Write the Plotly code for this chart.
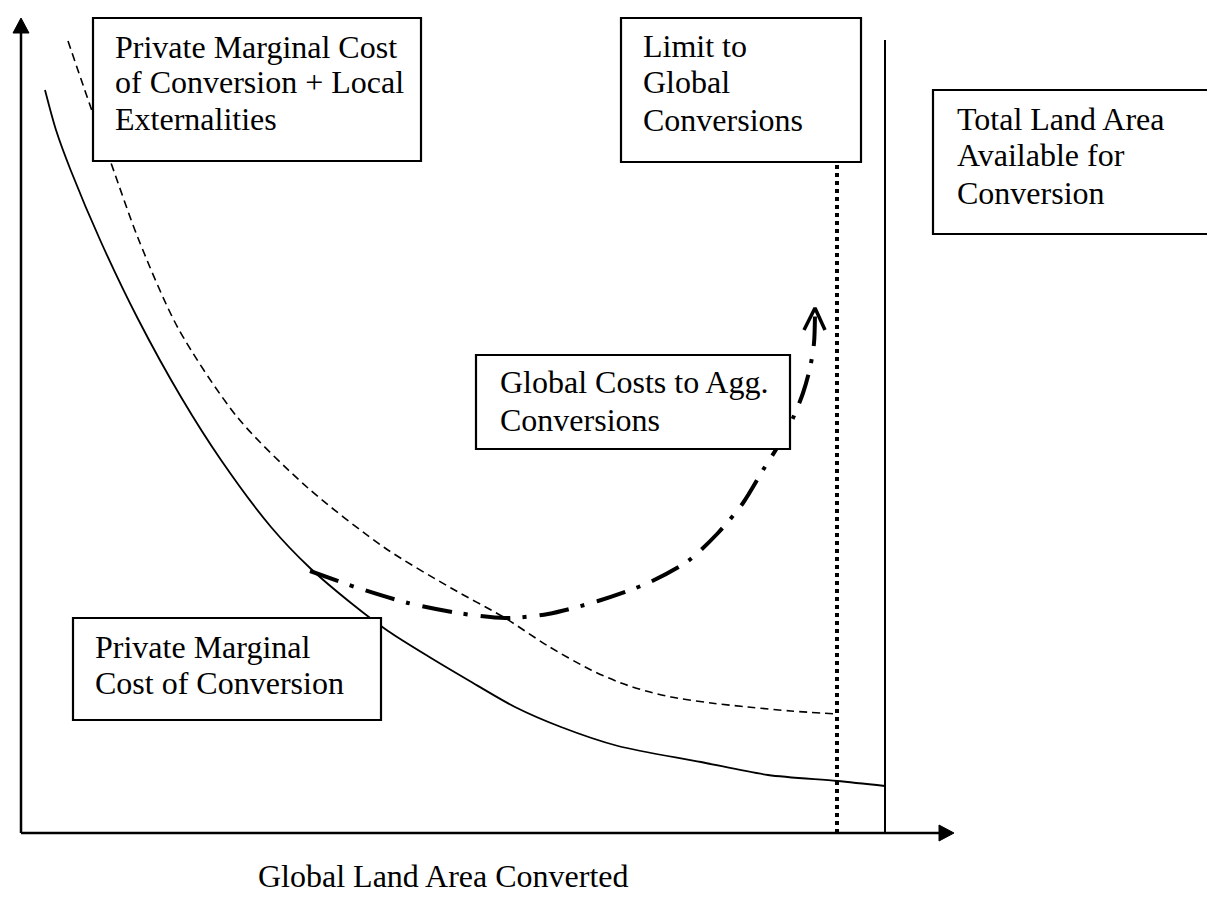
import plotly.graph_objects as go

# ---- data (arbitrary units: x = land area converted, y = cost) ----
pmc_x = [24, 35, 50, 80, 117, 160, 200, 250, 289, 330, 367, 410, 447, 494, 540, 597, 680, 747, 816, 864]
pmc_y = [743, 703, 662, 591, 514, 436, 373, 306, 265, 230, 202, 175, 153, 126, 106, 87, 71, 58, 52, 47]

pmc_local_x = [47, 70, 90, 117, 157, 217, 287, 364, 430, 484, 527, 570, 600, 625, 650, 690, 727, 770, 816]
pmc_local_y = [792, 725, 670, 595, 505, 415, 345, 285, 245, 215, 187, 163, 150, 142, 136, 130, 126, 122, 119]

global_x = [289, 337, 387, 437, 484, 527, 577, 627, 667, 697, 722, 742, 759, 772, 782, 789, 793, 794]
global_y = [262, 245, 230, 220, 215, 219, 232, 250, 272, 300, 330, 363, 390, 415, 440, 465, 490, 520]

limit_x = 816
limit_top = 668
total_x = 864
total_top = 793
x_axis_end = 933
y_axis_end = 815

labels = {
    "pmc_local": ["Private Marginal Cost", "of Conversion + Local", "Externalities"],
    "limit": ["Limit to", "Global", "Conversions"],
    "total": ["Total Land Area", "Available for", "Conversion"],
    "global": ["Global Costs to Agg.", "Conversions"],
    "pmc": ["Private Marginal", "Cost of Conversion"],
}
x_title = "Global Land Area Converted"

# ---- layout (positions in data units) ----
boxes = {
    "pmc_local": dict(x0=72, x1=400, y0=672, y1=815, tx=92, ty=[786, 751, 714]),
    "limit": dict(x0=600, x1=840, y0=671, y1=815, tx=620, ty=[787, 751, 713]),
    "total": dict(x0=912, x1=1192, y0=599, y1=743, tx=934, ty=[714, 678, 640]),
    "global": dict(x0=455, x1=769, y0=384, y1=478, tx=477, ty=[451, 413]),
    "pmc": dict(x0=52, x1=360, y0=113, y1=215, tx=72, ty=[186, 150]),
}

FONT = dict(family="Liberation Serif, Times New Roman, serif", size=32, color="black")
BLACK = "black"

fig = go.Figure()

# axes
fig.add_trace(go.Scatter(x=[0, 0], y=[0, y_axis_end - 12], mode="lines",
                         line=dict(color=BLACK, width=2.5), hoverinfo="skip"))
fig.add_trace(go.Scatter(x=[0, x_axis_end - 12], y=[0, 0], mode="lines",
                         line=dict(color=BLACK, width=2.5), hoverinfo="skip"))
# arrowheads (filled triangles)
fig.add_trace(go.Scatter(x=[-8, 0, 8, -8], y=[y_axis_end - 15, y_axis_end, y_axis_end - 15, y_axis_end - 15],
                         mode="lines", fill="toself", fillcolor=BLACK,
                         line=dict(color=BLACK, width=1), hoverinfo="skip"))
fig.add_trace(go.Scatter(x=[x_axis_end - 15, x_axis_end, x_axis_end - 15, x_axis_end - 15], y=[8, 0, -8, 8],
                         mode="lines", fill="toself", fillcolor=BLACK,
                         line=dict(color=BLACK, width=1), hoverinfo="skip"))

# total land line
fig.add_trace(go.Scatter(x=[total_x, total_x], y=[0, total_top], mode="lines",
                         line=dict(color=BLACK, width=2), hoverinfo="skip"))
# limit dotted line
fig.add_trace(go.Scatter(x=[limit_x, limit_x], y=[0, limit_top], mode="lines",
                         line=dict(color=BLACK, width=4, dash="4px,4px"), hoverinfo="skip"))

# curves
fig.add_trace(go.Scatter(x=pmc_x, y=pmc_y, mode="lines",
                         line=dict(color=BLACK, width=1.8, shape="spline", smoothing=0.8), hoverinfo="skip"))
fig.add_trace(go.Scatter(x=pmc_local_x, y=pmc_local_y, mode="lines",
                         line=dict(color=BLACK, width=1.6, dash="8px,5px", shape="spline", smoothing=0.8),
                         hoverinfo="skip"))
fig.add_trace(go.Scatter(x=global_x, y=global_y, mode="lines",
                         line=dict(color=BLACK, width=4, dash="30px,12px,4px,13px", shape="spline", smoothing=0.8),
                         hoverinfo="skip"))
# open arrowhead on global cost curve
tipx, tipy = global_x[-1], global_y[-1] + 5
fig.add_trace(go.Scatter(x=[tipx - 11, tipx, tipx + 10], y=[tipy - 22, tipy, tipy - 22], mode="lines",
                         line=dict(color=BLACK, width=3.5), hoverinfo="skip"))

# boxes + text
for key, b in boxes.items():
    fig.add_shape(type="rect", x0=b["x0"], x1=b["x1"], y0=b["y0"], y1=b["y1"],
                  xref="x", yref="y", line=dict(color=BLACK, width=2.2),
                  fillcolor="white", layer="above")
    for line_text, ty in zip(labels[key], b["ty"]):
        fig.add_annotation(x=b["tx"], y=ty, text=line_text, showarrow=False,
                           xanchor="left", yanchor="middle", font=FONT)

fig.add_annotation(x=236, y=-43, text=x_title, showarrow=False, borderpad=0,
                   xanchor="left", yanchor="middle", font=FONT)

fig.update_layout(
    width=1215, height=897,
    margin=dict(l=0, r=0, t=0, b=0),
    paper_bgcolor="white", plot_bgcolor="white",
    showlegend=False,
    xaxis=dict(range=[-13, 1202], visible=False, fixedrange=True),
    yaxis=dict(range=[-72, 825], visible=False, fixedrange=True),
)

fig.write_html("out.html")
